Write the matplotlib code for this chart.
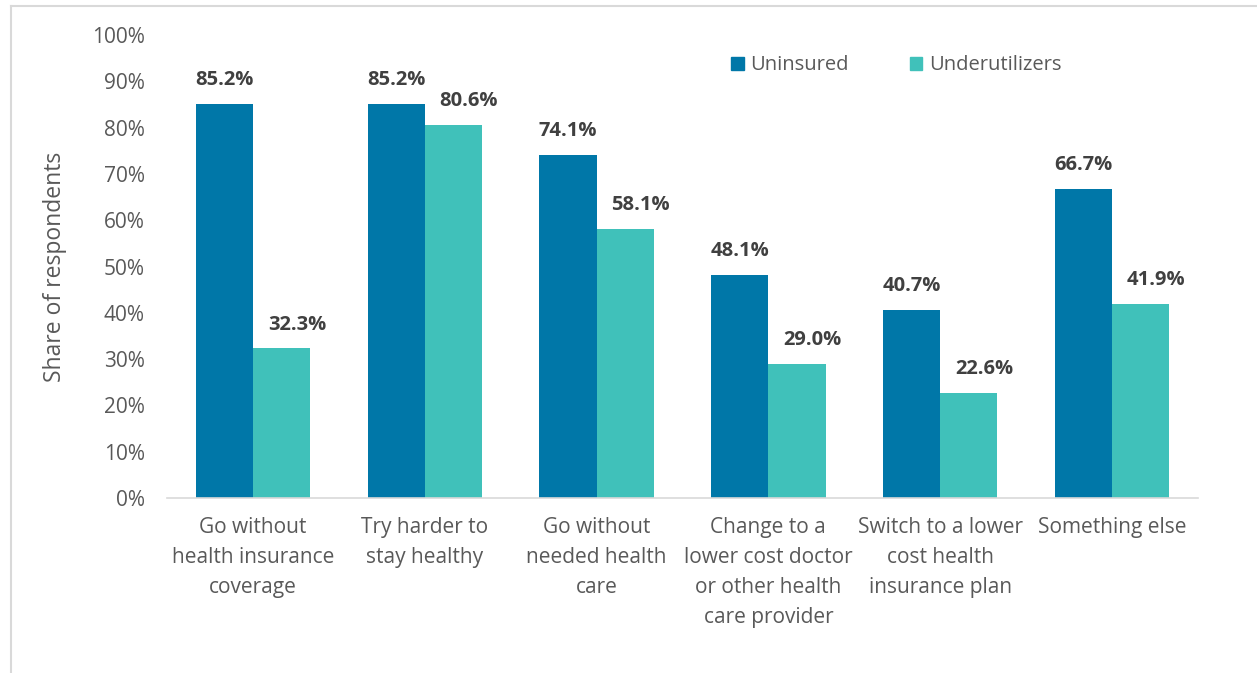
import matplotlib.pyplot as plt
import numpy as np
from matplotlib.patches import Rectangle
from matplotlib.lines import Line2D

# Survey answers and shares for each group
categories = ["Go without\nhealth insurance\ncoverage",
              "Try harder to\nstay healthy",
              "Go without\nneeded health\ncare",
              "Change to a\nlower cost doctor\nor other health\ncare provider",
              "Switch to a lower\ncost health\ninsurance plan",
              "Something else"]
uninsured = [85.2, 85.2, 74.1, 48.1, 40.7, 66.7]
underutilizers = [32.3, 80.6, 58.1, 29.0, 22.6, 41.9]
series_names = ["Uninsured", "Underutilizers"]

plt.rcParams['font.family'] = ['Open Sans', 'DejaVu Sans']

dark_blue = '#0077A8'
teal = '#40C1BA'
grey_text = '#595959'

fig = plt.figure(figsize=(12.57, 6.73), dpi=100)
ax = fig.add_axes([0.1329, 0.260, 0.820, 0.688])

x = np.arange(len(categories))
w = 0.333
b1 = ax.bar(x - w / 2, uninsured, w, color=dark_blue, label=series_names[0])
b2 = ax.bar(x + w / 2, underutilizers, w, color=teal, label=series_names[1])

# value labels on top of each bar (teal ones nudged right)
for bars, vals, dx in [(b1, uninsured, 0), (b2, underutilizers, 11)]:
    for bar, v in zip(bars, vals):
        ax.annotate(f"{v:.1f}%", (bar.get_x() + bar.get_width() / 2, v),
                    xytext=(dx, 10), textcoords='offset points',
                    ha='center', va='bottom', fontsize=14.5,
                    fontweight='bold', color='#404040')

ax.set_xlim(-0.5, len(categories) - 0.5)
ax.set_ylim(0, 100)
ax.set_yticks(np.arange(0, 101, 10))
ax.set_yticklabels([f"{t}%" for t in range(0, 101, 10)])
ax.set_xticks(x)
ax.set_xticklabels(categories, linespacing=1.55)
ax.tick_params(axis='both', length=0, labelsize=15, colors=grey_text)
ax.tick_params(axis='x', pad=14)
ax.tick_params(axis='y', pad=16)

for side in ['top', 'right', 'left']:
    ax.spines[side].set_visible(False)
ax.spines['bottom'].set_color('#D9D9D9')
ax.spines['bottom'].set_linewidth(1.2)

ax.set_ylabel("Share of respondents", fontsize=16.5, color=grey_text, labelpad=18)

handles = [Rectangle((0, 0), 1, 1, color=dark_blue), Rectangle((0, 0), 1, 1, color=teal)]
ax.legend(handles, series_names, loc='upper left', bbox_to_anchor=(0.53, 0.995),
          ncol=2, frameon=False, fontsize=14.5, handlelength=0.6, handleheight=0.6,
          handletextpad=0.35, columnspacing=3.0, labelcolor=grey_text)

# light frame around the chart area
fig.add_artist(Line2D([11 / 1257, 11 / 1257], [0, 1 - 6 / 673], color='#D9D9D9', lw=1.5))
fig.add_artist(Line2D([11 / 1257, 1], [1 - 6 / 673, 1 - 6 / 673], color='#D9D9D9', lw=1.5))

fig.savefig("out.png", dpi=100)
